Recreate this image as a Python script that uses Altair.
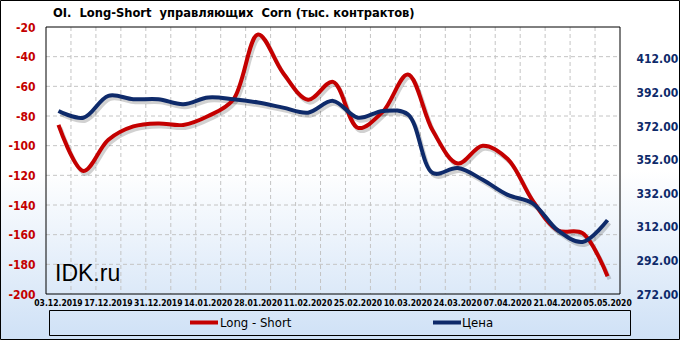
import altair as alt
import pandas as pd

dates = ["03.12.2019", "10.12.2019", "17.12.2019", "24.12.2019", "31.12.2019",
         "07.01.2020", "14.01.2020", "21.01.2020", "28.01.2020", "04.02.2020",
         "11.02.2020", "18.02.2020", "25.02.2020", "03.03.2020", "10.03.2020",
         "17.03.2020", "24.03.2020", "31.03.2020", "07.04.2020", "14.04.2020",
         "21.04.2020", "28.04.2020", "05.05.2020"]
long_short = [-86, -117, -96, -87, -85, -86, -80, -69, -25, -51, -69, -57,
              -88, -77, -52, -90, -112, -100, -109, -137, -157, -159, -188]
price = [381, 377, 390, 388, 388, 385, 389, 388, 386, 383, 380, 387,
         377, 381, 379, 344, 347, 340, 331, 326, 310, 303, 316]
series_names = ["Long - Short", "Цена"]
left_ticks = [-200, -180, -160, -140, -120, -100, -80, -60, -40, -20]
right_ticks = [272, 292, 312, 332, 352, 372, 392, 412]
title_text = "OI.\u00a0 Long-Short\u00a0 управляющих\u00a0 Corn (тыс. контрактов)"
watermark = "IDK.ru"

RED = "#c40000"
BLUE = "#0e2a6a"
FONT = "DejaVu Sans Condensed, Tahoma, DejaVu Sans"
W, H = 574, 267

df = pd.DataFrame({"idx": list(range(len(dates))), "date": dates,
                   "ls": long_short, "price": price})
one = pd.DataFrame({"k": [0]})

xscale = alt.Scale(domain=[-0.5, len(dates) - 0.5], nice=False, zero=False)
yleft = alt.Scale(domain=[-200, -20], nice=False, zero=False)
yright = alt.Scale(domain=[272, 431], nice=False, zero=False)

laxis = alt.Axis(values=left_ticks, labelExpr="'' + datum.value", orient="left",
                 grid=False, ticks=False, domain=False, title=None, zindex=1,
                 labelFont=FONT, labelFontSize=12, labelFontWeight="bold", labelColor=RED,
                 labelPadding=11, labelFlush=False, labelOverlap=False)
raxis = alt.Axis(values=right_ticks, format=".2f", orient="right",
                 grid=False, ticks=False, domain=False, title=None, zindex=1,
                 labelFont=FONT, labelFontSize=12, labelFontWeight="bold", labelColor=BLUE,
                 labelPadding=16, labelFlush=False, labelOverlap=False)

grad = alt.Gradient(gradient="linear",
                    stops=[alt.GradientStop(color="#ffffff", offset=0),
                           alt.GradientStop(color="#ffffff", offset=0.5),
                           alt.GradientStop(color="#cfe1f6", offset=1)],
                    x1=0, x2=0, y1=0, y2=1)

bg = alt.Chart(one).mark_rect(fill=grad, stroke="#000000", strokeWidth=1, clip=False).encode(
    x=alt.value(-45.5), x2=alt.value(633.5), y=alt.value(-26.5), y2=alt.value(312.5))

vgrid = alt.Chart(df).transform_filter(f"datum.idx < {len(dates) - 1}").transform_calculate(
    b="datum.idx + 0.5").mark_rule(color="#c4c4c4", strokeDash=[4, 3], strokeWidth=1).encode(
    x=alt.X("b:Q", scale=xscale, axis=None), y=alt.value(0), y2=alt.value(H))

hgrid = alt.Chart(pd.DataFrame({"t": left_ticks[1:-1]})).mark_rule(
    color="#c4c4c4", strokeDash=[4, 3], strokeWidth=1).encode(
    y=alt.Y("t:Q", scale=yleft, axis=None), x=alt.value(0), x2=alt.value(W))

shadow_r = alt.Chart(df).mark_line(color="#000000", opacity=0.18, strokeWidth=4,
                                   interpolate="catmull-rom", xOffset=2, yOffset=3).encode(
    x=alt.X("idx:Q", scale=xscale, axis=None), y=alt.Y("ls:Q", scale=yleft, axis=None))
shadow_b = alt.Chart(df).mark_line(color="#000000", opacity=0.18, strokeWidth=4,
                                   interpolate="catmull-rom", xOffset=2, yOffset=3).encode(
    x=alt.X("idx:Q", scale=xscale, axis=None), y=alt.Y("price:Q", scale=yright, axis=None))

red_line = alt.Chart(df).mark_line(color=RED, strokeWidth=4, interpolate="catmull-rom").encode(
    x=alt.X("idx:Q", scale=xscale, axis=None), y=alt.Y("ls:Q", scale=yleft, axis=laxis))
blue_line = alt.Chart(df).mark_line(color=BLUE, strokeWidth=4, interpolate="catmull-rom").encode(
    x=alt.X("idx:Q", scale=xscale, axis=None), y=alt.Y("price:Q", scale=yright, axis=raxis))

xlabels = alt.Chart(df).transform_filter("datum.idx % 2 == 0").mark_text(
    baseline="top", align="center", font=FONT, fontSize=8.5, fontWeight="bold",
    color="#000000", clip=False).encode(
    x=alt.X("idx:Q", scale=xscale, axis=None), y=alt.value(H + 5), text="date:N")

frame = alt.Chart(one).mark_rect(fillOpacity=0, stroke="#000000", strokeWidth=1).encode(
    x=alt.value(0), x2=alt.value(W), y=alt.value(0), y2=alt.value(H))

title = alt.Chart(one).mark_text(align="left", baseline="alphabetic", font=FONT, fontSize=12.8,
                                 fontWeight="bold", color="#000000", clip=False).encode(
    x=alt.value(7), y=alt.value(-10), text=alt.value(title_text))

legbox = alt.Chart(one).mark_rect(fillOpacity=0, stroke="#000000", strokeWidth=1, clip=False).encode(
    x=alt.value(3.5), x2=alt.value(584.5), y=alt.value(283.5), y2=alt.value(308.5))
leg_r = alt.Chart(one).mark_rule(color=RED, strokeWidth=4).encode(
    x=alt.value(144), x2=alt.value(172), y=alt.value(295.5))
leg_b = alt.Chart(one).mark_rule(color=BLUE, strokeWidth=4).encode(
    x=alt.value(387), x2=alt.value(415), y=alt.value(295.5))
leg_rt = alt.Chart(one).mark_text(align="left", baseline="middle", font=FONT, fontSize=13,
                                  color="#000000").encode(
    x=alt.value(174), y=alt.value(295.5), text=alt.value(series_names[0]))
leg_bt = alt.Chart(one).mark_text(align="left", baseline="middle", font=FONT, fontSize=13,
                                  color="#000000").encode(
    x=alt.value(416), y=alt.value(295.5), text=alt.value(series_names[1]))

idk = alt.Chart(one).mark_text(align="left", baseline="alphabetic", font="Liberation Sans",
                               fontSize=23, color="#000000").encode(
    x=alt.value(9), y=alt.value(254), text=alt.value(watermark))

chart = alt.layer(
    bg, vgrid, hgrid, shadow_r, shadow_b, red_line, blue_line, frame, xlabels, title,
    legbox, leg_r, leg_b, leg_rt, leg_bt, idk
).resolve_scale(y="independent").properties(
    width=W, height=H,
    padding={"left": 46, "top": 27, "right": 60, "bottom": 46},
    autosize=alt.AutoSizeParams(type="none"),
).configure_view(stroke=None)

chart.save("out.html", embed_options={"renderer": "svg", "actions": False})
